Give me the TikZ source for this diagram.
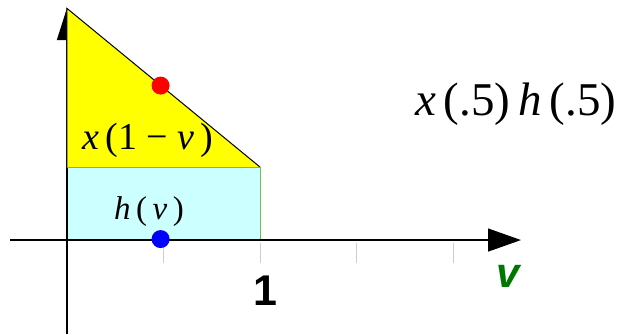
\documentclass[tikz,border=0pt]{standalone}
\usepackage{fontspec}
\setmainfont{Liberation Serif}
\newfontfamily\axisfont{Liberation Sans}
\usetikzlibrary{arrows.meta}
\definecolor{triyellow}{RGB}{255,255,0}
\definecolor{rectcyan}{RGB}{204,255,255}
\definecolor{rectedge}{RGB}{120,190,70}
\definecolor{vgreen}{RGB}{0,120,0}
\definecolor{tickgray}{RGB}{205,205,205}
\newcommand{\vr}[1]{\textit{#1}}
\begin{document}
\begin{tikzpicture}[x=193pt,y=193pt,
  mathlabel/.style={inner sep=0pt,font=\fontsize{38}{44}\selectfont},
  axislabel/.style={inner sep=0pt,font=\axisfont\bfseries\fontsize{43}{48}\selectfont}]
\useasboundingbox (-0.347,-0.487) rectangle (2.870,1.2435);

\fill[rectcyan] (0,0) rectangle (1,0.378);
\draw[rectedge,line width=1pt] (0,0) rectangle (1,0.378);

\foreach \t in {0,0.5,1,1.5,2}
  \draw[tickgray,line width=1pt] (\t,-0.016) -- (\t,-0.119);

\draw[line width=1.3pt,-{Triangle[length=33pt,width=23pt]}] (-0.295,0) -- (2.352,0);
\draw[line width=1.3pt,-{Triangle[length=32pt,width=20pt]}] (0,-0.487) -- (0,1.202);

\fill[triyellow] (0,0.378) -- (1,0.378) -- (0,1.2) -- cycle;
\draw[line width=1pt] (0,0.378) -- (0,1.2) -- (1,0.378);
\draw[rectedge,line width=1pt] (0,0.378) -- (1,0.378);

\fill[red] (0.485,0.8) circle[radius=9pt];
\fill[blue] (0.485,0.005) circle[radius=9pt];

\node[mathlabel] (xlab) at (0.42,0.518) {\vr{x}\,(1 − \vr{v}\,)};
\node[mathlabel,font=\fontsize{33}{38}\selectfont] (hlab) at (0.425,0.145) {\vr{h}\,(\,\vr{v}\,)};
\node[mathlabel,font=\fontsize{47}{54}\selectfont] (prod) at (2.325,0.705) {\vr{x}\,(.5)\,\vr{h}\,(.5)};
\node[axislabel] (one) at (1.026,-0.264) {1};
\node[axislabel,text=vgreen,font=\axisfont\bfseries\itshape\fontsize{42}{48}\selectfont] (vlab) at (2.285,-0.187) {v};
\end{tikzpicture}
\end{document}
